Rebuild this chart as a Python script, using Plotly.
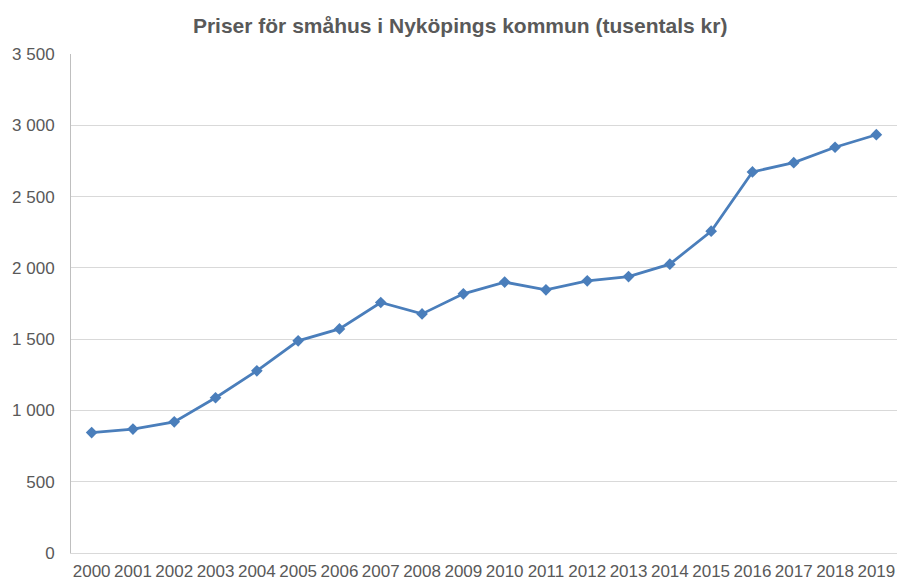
import plotly.graph_objects as go

# Data
years = [str(y) for y in range(2000, 2020)]
prices = [845, 869, 920, 1089, 1278, 1488, 1572, 1757, 1677, 1818,
          1900, 1846, 1909, 1939, 2026, 2257, 2673, 2738, 2846, 2934]

y_tickvals = [0, 500, 1000, 1500, 2000, 2500, 3000, 3500]
y_ticktext = ["0", "500", "1 000", "1 500", "2 000", "2 500", "3 000", "3 500"]

TITLE = "Priser för småhus i Nyköpings kommun (tusentals kr)"
LINE_COLOR = "#4A7EBB"
TEXT_COLOR = "#595959"
GRID_COLOR = "#D9D9D9"
FONT = "Liberation Sans, Arial, sans-serif"

fig = go.Figure()
fig.add_trace(go.Scatter(
    x=years, y=prices, mode="lines+markers",
    line=dict(color=LINE_COLOR, width=2.75),
    marker=dict(symbol="diamond", size=9, color=LINE_COLOR),
    showlegend=False,
))

fig.update_layout(
    width=897, height=581,
    margin=dict(l=71, r=0, t=54, b=28),
    paper_bgcolor="white", plot_bgcolor="white",
    font=dict(family=FONT, size=17, color=TEXT_COLOR),
    title=dict(
        text=f"<b>{TITLE}</b>",
        x=0.513, xanchor="center", xref="container",
        y=0.955, yanchor="middle", yref="container",
        font=dict(size=21, color=TEXT_COLOR, family=FONT),
    ),
    xaxis=dict(
        type="category", range=[-0.5, len(years) - 0.5],
        showgrid=False, automargin=False,
        showline=True, linecolor=GRID_COLOR, linewidth=1,
        ticks="", tickangle=0, tickfont=dict(size=17, color=TEXT_COLOR),
        ticklabelstandoff=3,
    ),
    yaxis=dict(
        range=[0, 3500], tickvals=y_tickvals, ticktext=y_ticktext,
        automargin=False,
        showgrid=True, gridcolor=GRID_COLOR, gridwidth=1,
        showline=True, linecolor="#BFBFBF", linewidth=1,
        zeroline=False, ticks="",
        tickfont=dict(size=17, color=TEXT_COLOR),
        ticklabelstandoff=12,
    ),
)

# drop the default page margin so the figure fills the window exactly
fig.write_html(
    "out.html",
    config={"displayModeBar": False},
    post_script="document.body.style.margin='0';document.body.style.overflow='hidden';",
)
